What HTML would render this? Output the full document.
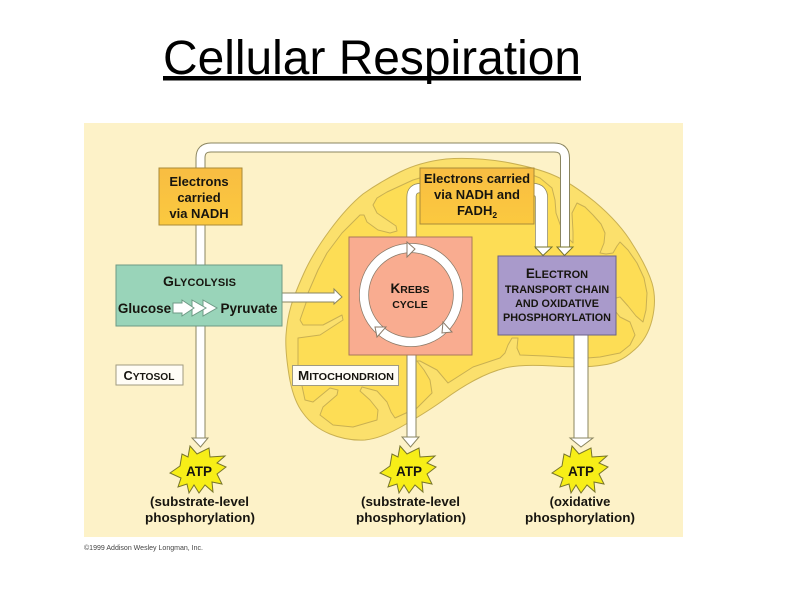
<!DOCTYPE html>
<html><head><meta charset="utf-8"><style>
html,body{margin:0;padding:0;background:#fff;width:800px;height:600px;overflow:hidden}
svg{display:block}
text{font-family:"Liberation Sans",sans-serif;font-weight:bold;fill:#17150f;text-anchor:middle}
</style></head><body>
<svg width="800" height="600" viewBox="0 0 800 600" xmlns="http://www.w3.org/2000/svg">
<defs>
<linearGradient id="o" x1="0" y1="0" x2="0" y2="1"><stop offset="0" stop-color="#f8bd42"/><stop offset="1" stop-color="#fbc93f"/></linearGradient>
<g id="star"><polygon points="-8,-24 -1,-16 11,-22 12,-13 27,-14 19,-7 28,-3 19,4 24,14 14,12 15,22 7,15 1,23 -4,15 -9,23 -11,14 -20,17 -17,8 -28,3 -18,-4 -16,-16 -10,-13" fill="#f7ee17" stroke="#77752a" stroke-width="1"/></g>
</defs>
<text x="372" y="74" style="font-weight:normal;font-size:48px;fill:#000" textLength="418" lengthAdjust="spacingAndGlyphs">Cellular Respiration</text>
<rect x="163" y="76" width="418" height="4.5" fill="#000"/>
<rect x="84" y="123" width="599" height="414" fill="#fdf2c8"/>
<!-- mitochondrion -->
<path d="M289,375Q285,350 286,335Q287,320 291,306Q295,293 304,273Q313,253 330,230Q347,207 363,194Q380,182 400,172Q420,162 446,159Q473,157 505,162Q537,168 553,175Q570,182 595,202Q620,223 633,245Q647,267 652,283Q657,300 652,320Q647,340 633,351Q620,363 603,365Q587,368 553,366Q520,364 505,368Q490,372 475,380Q460,388 445,399Q430,410 406,424Q383,438 365,440Q347,441 330,434Q313,427 303,413Q293,400 289,375Z" fill="#fbe06c" stroke="#c9b052" stroke-width="1"/>
<!-- inner membrane -->
<polyline fill="#fddd55" stroke="#c9b052" stroke-width="1" stroke-linejoin="round" points="300,320 307,300 308,293 318,270 327,253 342,233 360,215 364,215 367,222 378,230 390,233 397,231 396,226 377,213 373,205 377,198 387,192 413,180 440,172 480,168 520,170 540,178 552,188 555,200 556,213 561,227 567,237 573,243 573,232 572,213 577,203 585,207 593,215 601,224 605,233 604,243 600,253 606,254 613,253 617,246 620,242 628,250 637,263 644,278 647,293 646,310 643,322 636,316 628,306 620,297 616,298 616,312 620,317 630,322 635,335 630,345 620,353 600,357 587,358 573,358 545,356 520,355 517,348 518,338 512,338 508,345 505,353 500,358 473,367 448,383 437,370 420,361 417,361 424,370 430,380 432,393 417,408 395,418 391,412 387,402 377,391 362,387 360,391 370,400 378,410 377,420 353,427 333,425 320,415 323,407 337,395 338,390 330,388 313,402 305,400 298,367 298,338 320,335 343,320 342,315 323,325 303,325 300,320"/>
<!-- top loop arrow -->
<path d="M200.5,440V158Q200.5,147.5 211,147.5H554Q565,147.5 565,158V249" fill="none" stroke="#8a8560" stroke-width="10"/>
<path d="M200.5,440V158Q200.5,147.5 211,147.5H554Q565,147.5 565,158V249" fill="none" stroke="#fff" stroke-width="8"/>
<polygon points="192,438 196,438 205,438 208,438 200.5,447" fill="#fff" stroke="#8a8560"/>
<polygon points="557,247 573,247 564.5,255.5" fill="#fff" stroke="#77752a"/>
<!-- second arrow -->
<path d="M411.5,240V197Q411.5,188 421,188H440" fill="none" stroke="#8a8560" stroke-width="10"/>
<path d="M411.5,240V197Q411.5,188 421,188H440" fill="none" stroke="#fff" stroke-width="8.5"/>
<path d="M520,189.5H533Q541.5,189.5 541.5,198V249" fill="none" stroke="#8a8560" stroke-width="13"/>
<path d="M520,189.5H533Q541.5,189.5 541.5,198V249" fill="none" stroke="#fff" stroke-width="11.5"/>
<polygon points="535,247 552,247 543,255.5" fill="#fff" stroke="#77752a"/>
<!-- lower arrows -->
<rect x="407" y="354" width="9" height="85" fill="#fff" stroke="#8a8560"/>
<polygon points="402,437 419,437 410.5,447" fill="#fff" stroke="#8a8560"/>
<rect x="574" y="334" width="14" height="106" fill="#fff" stroke="#8a8560"/>
<polygon points="570,438 593,438 581,447" fill="#fff" stroke="#8a8560"/>
<!-- arrow to krebs -->
<polygon points="282,293 334,293 334,289 342,297 334,304 334,302 282,302" fill="#fff" stroke="#8a8560"/>
<!-- electrons NADH -->
<rect x="159" y="168" width="83" height="57" fill="url(#o)" stroke="#a98a38"/>
<text x="199" y="186" font-size="13">Electrons</text>
<text x="199" y="202" font-size="13">carried</text>
<text x="199" y="218" font-size="13">via NADH</text>
<!-- electrons NADH FADH -->
<rect x="420" y="168" width="114" height="56" fill="url(#o)" stroke="#a98a38"/>
<text x="477" y="183" font-size="13">Electrons carried</text>
<text x="477" y="199" font-size="13">via NADH and</text>
<text x="477" y="215" font-size="13">FADH<tspan font-size="8.5" dy="3">2</tspan></text>
<!-- glycolysis -->
<rect x="116" y="265" width="166" height="61" fill="#99d4b9" stroke="#6d9a85"/>
<text x="199.5" y="286" font-size="14" textLength="73">G<tspan font-size="11">LYCOLYSIS</tspan></text>
<text x="144.5" y="313" font-size="13.5">Glucose</text>
<text x="249" y="313" font-size="13.5">Pyruvate</text>
<polygon points="203,300 217,308 203,316" fill="#fff" stroke="#6d9a85"/>
<polygon points="192,300 206,308 192,316" fill="#fff" stroke="#6d9a85"/>
<polygon points="173,303 182,303 182,300 194,308 182,316 182,313 173,313" fill="#fff" stroke="#6d9a85"/>
<!-- Krebs -->
<rect x="349" y="237" width="123" height="118" fill="#f9ac90" stroke="#a9775c"/>
<circle cx="411" cy="295" r="47" fill="none" stroke="#8a7a68" stroke-width="10"/>
<circle cx="411" cy="295" r="47" fill="none" stroke="#fff" stroke-width="8.5"/>
<polygon points="407,242 415,249 407,257" fill="#fff" stroke="#8a7a68"/>
<polygon points="443,322 442,333 452,332" fill="#fff" stroke="#8a7a68"/>
<polygon points="375,327 386,327 377,337" fill="#fff" stroke="#8a7a68"/>
<text x="410" y="293" font-size="13.5">K<tspan font-size="10.5">REBS</tspan></text>
<text x="410" y="308" font-size="10.5">CYCLE</text>
<!-- ETC -->
<rect x="498" y="256" width="118" height="79" fill="#a99acb" stroke="#6c6287"/>
<text x="557" y="278" font-size="13.5">E<tspan font-size="11">LECTRON</tspan></text>
<text x="557" y="293" font-size="10.8">TRANSPORT CHAIN</text>
<text x="557" y="307" font-size="10.8">AND OXIDATIVE</text>
<text x="557" y="321" font-size="10.8">PHOSPHORYLATION</text>
<!-- labels -->
<rect x="116" y="365" width="67" height="20" fill="#fffdf6" stroke="#a09b80"/>
<text x="149" y="380" font-size="12.5" textLength="51" lengthAdjust="spacingAndGlyphs">C<tspan font-size="10">YTOSOL</tspan></text>
<rect x="292.500" y="365.500" width="106" height="20" fill="#fffdf6" stroke="#a09b80"/>
<text x="346" y="380" font-size="13" textLength="96" lengthAdjust="spacingAndGlyphs">M<tspan font-size="10.5">ITOCHONDRION</tspan></text>
<!-- ATP stars -->
<use href="#star" x="198" y="470"/>
<use href="#star" x="408" y="470"/>
<use href="#star" x="580" y="470"/>
<text x="199" y="476" font-size="13.5">ATP</text>
<text x="409" y="476" font-size="13.5">ATP</text>
<text x="581" y="476" font-size="13.5">ATP</text>
<text x="199.500" y="506" font-size="13" textLength="99" lengthAdjust="spacingAndGlyphs">(substrate-level</text>
<text x="200" y="522" font-size="13" textLength="110" lengthAdjust="spacingAndGlyphs">phosphorylation)</text>
<text x="410.500" y="506" font-size="13" textLength="99" lengthAdjust="spacingAndGlyphs">(substrate-level</text>
<text x="411" y="522" font-size="13" textLength="110" lengthAdjust="spacingAndGlyphs">phosphorylation)</text>
<text x="580" y="506" font-size="13">(oxidative</text>
<text x="580" y="522" font-size="13" textLength="110" lengthAdjust="spacingAndGlyphs">phosphorylation)</text>
<text x="143.500" y="550" font-size="7.5" style="font-weight:normal;fill:#444" textLength="119" lengthAdjust="spacingAndGlyphs">©1999 Addison Wesley Longman, Inc.</text>
</svg>
</body></html>
